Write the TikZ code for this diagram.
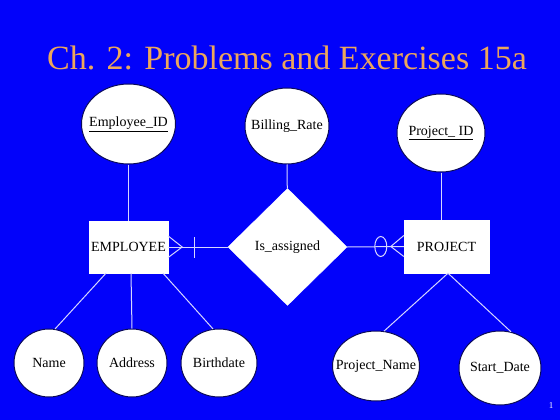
\documentclass[tikz,border=0pt]{standalone}
\usepackage{fontspec}
\setmainfont{Liberation Serif}
\usetikzlibrary{shapes.geometric,calc}
\definecolor{bgblue}{RGB}{2,2,250}
\definecolor{titleorange}{RGB}{236,166,92}
\definecolor{navy}{RGB}{10,10,90}
\definecolor{linkcol}{RGB}{215,215,255}
\newcommand{\zw}[1]{\makebox[0pt]{#1}}
\tikzset{
  attr/.style={ellipse, draw=navy, line width=1pt, fill=white, inner sep=0pt,
    font=\fontsize{14}{16}\selectfont, text=black},
  ent/.style={rectangle, fill=white, draw=white, inner sep=0pt,
    font=\fontsize{14}{16}\selectfont, text=black},
  rel/.style={diamond, fill=white, draw=white, inner sep=0pt, aspect=1,
    font=\fontsize{14}{16}\selectfont, text=black},
  link/.style={draw=linkcol, line width=1pt},
}
\begin{document}
\begin{tikzpicture}[x=1pt,y=-1pt]
\fill[bgblue] (0,0) rectangle (560,420);
\useasboundingbox (0,0) rectangle (560,420);

\node[anchor=base, text=titleorange, font=\fontsize{34}{38}\selectfont] (title) at (287,70) {Ch. 2: Problems and Exercises 15a};

% entities and relationship
\node[ent, minimum width=79pt, minimum height=52pt] (emp) at (128.5,247) {EMPLOYEE};
\node[ent, minimum width=85pt, minimum height=53pt] (proj) at (446.5,246.5) {PROJECT};
\node[rel, minimum width=119pt, minimum height=117pt] (rel) at (287.5,247) {\zw{Is\_assigned}};

% attributes
\node[attr, minimum width=94pt, minimum height=80pt] (eid) at (128.5,124) {\zw{\underline{Employee\_ID}}};
\node[attr, minimum width=84pt, minimum height=76pt] (rate) at (287,126) {\zw{Billing\_Rate}};
\node[attr, minimum width=88pt, minimum height=78pt] (pid) at (441,133) {\zw{\underline{Project\_ ID}}};
\node[attr, minimum width=70pt, minimum height=68pt] (name) at (49,363) {\zw{Name}};
\node[attr, minimum width=70pt, minimum height=68pt] (addr) at (132,363) {\zw{Address}};
\node[attr, minimum width=76pt, minimum height=68pt] (bd) at (219,363) {\zw{Birthdate}};
\node[attr, minimum width=87pt, minimum height=70pt] (pname) at (376,366) {\zw{Project\_Name}};
\node[attr, minimum width=82pt, minimum height=74pt] (sdate) at (500,368) {\zw{Start\_Date}};

\node[text=white, font=\fontsize{9}{10}\selectfont] (pg) at (551,406) {1};

% attribute links
\draw[link] (eid) -- (emp);
\draw[link] (rate) -- (rel);
\draw[link] (pid.south) -- (pid.south |- proj.north);
\draw[link] ([xshift=-22.5pt]emp.south) -- (name.80);
\draw[link] ([xshift=2.5pt]emp.south) -- (addr.north);
\draw[link] ([xshift=34.5pt]emp.south) -- (bd.100);
\draw[link] ([xshift=1.5pt]proj.south) -- (pname.77);
\draw[link] ([xshift=1.5pt]proj.south) -- (sdate.73);

% relationship links with cardinality
\draw[link] (emp.east) -- (rel.west);
\coordinate (ecf) at ([xshift=14pt]emp.east);
\draw[link] ([yshift=-10.5pt]emp.east) -- (ecf) -- ([yshift=11pt]emp.east);
\coordinate (ebar) at ([xshift=26pt]emp.east);
\draw[link] ([yshift=-10.5pt]ebar) -- ([yshift=10.5pt]ebar);

\draw[link] (rel.east) -- (proj.west);
\coordinate (pcf) at ([xshift=-13pt]proj.west);
\draw[link] ([yshift=-10pt]proj.west) -- (pcf) -- ([yshift=11pt]proj.west);
\coordinate (pcirc) at ([xshift=-23pt]proj.west);
\draw[link] (pcirc) ellipse [x radius=6pt, y radius=10pt];
\end{tikzpicture}
\end{document}
